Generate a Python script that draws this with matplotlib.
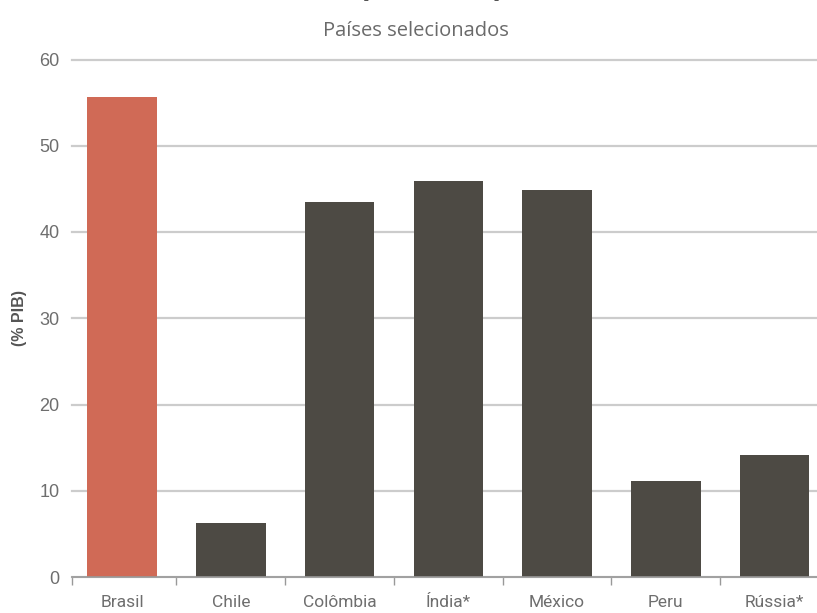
import matplotlib.pyplot as plt

# Net public debt, selected countries (% of GDP)
countries = ["Brasil", "Chile", "Colômbia", "Índia*", "México", "Peru", "Rússia*"]
debt_pct_gdp = [55.7, 6.3, 43.5, 45.9, 44.9, 11.1, 14.1]
highlight = "Brasil"
y_ticks = [0, 10, 20, 30, 40, 50, 60]

RED = "#d06a56"
DARK = "#4d4a44"
GRID = "#cccccc"
LABEL = "#6e6e6e"

fig = plt.figure(figsize=(8.17, 6.13), dpi=100)
W, H = 817, 613
left, right, top, bottom = 72, 817, 59.5, 577
ax = fig.add_axes([left / W, 1 - bottom / H, (right - left) / W, (bottom - top) / H])

x = list(range(len(countries)))
colors = [RED if c == highlight else DARK for c in countries]
ax.bar(x, debt_pct_gdp, width=0.64, color=colors, zorder=3)

ax.set_xlim(-0.46, 6.39)
ax.set_ylim(0, 60)
ax.set_yticks(y_ticks)
ax.set_yticklabels([str(v) for v in y_ticks], fontsize=13, color=LABEL,
                   family="Liberation Sans")
ax.tick_params(axis="y", length=0, pad=9)
ax.yaxis.grid(True, color=GRID, linewidth=1.6, zorder=0)
for gl in ax.get_ygridlines():
    gl.set_clip_on(False)

# category labels centred under bars, ticks at the boundaries
ax.set_xticks(x)
ax.set_xticklabels(countries, fontsize=12.5, color=LABEL, family=["Roboto", "DejaVu Sans"])
ax.tick_params(axis="x", which="major", length=0, pad=13)
ax.set_xticks([i - 0.5 for i in range(1, len(countries))] + [-0.46], minor=True)
ax.tick_params(axis="x", which="minor", length=6, color="#999999", width=1)

for s in ["top", "right", "left"]:
    ax.spines[s].set_visible(False)
ax.spines["bottom"].set_color("#999999")
ax.spines["bottom"].set_linewidth(1.2)
ax.spines["bottom"].set_zorder(4)

ax.set_ylabel("(% PIB)", fontsize=11.5, fontweight="bold", color="#555555",
              family="Liberation Sans")
ax.yaxis.set_label_coords(-0.06, 0.5)

# Title sits at the very top edge of the canvas
fig.text(414 / W, 1 + 4 / H, "Dívida pública líquida", ha="center", va="baseline",
         fontsize=17, fontweight="bold", color="#555555")
fig.text(416 / W, 1 - 31 / H, "Países selecionados", ha="center", va="center",
         fontsize=14.5, color="#6a6a6a", family="Open Sans")

fig.savefig("out.png", dpi=100)
